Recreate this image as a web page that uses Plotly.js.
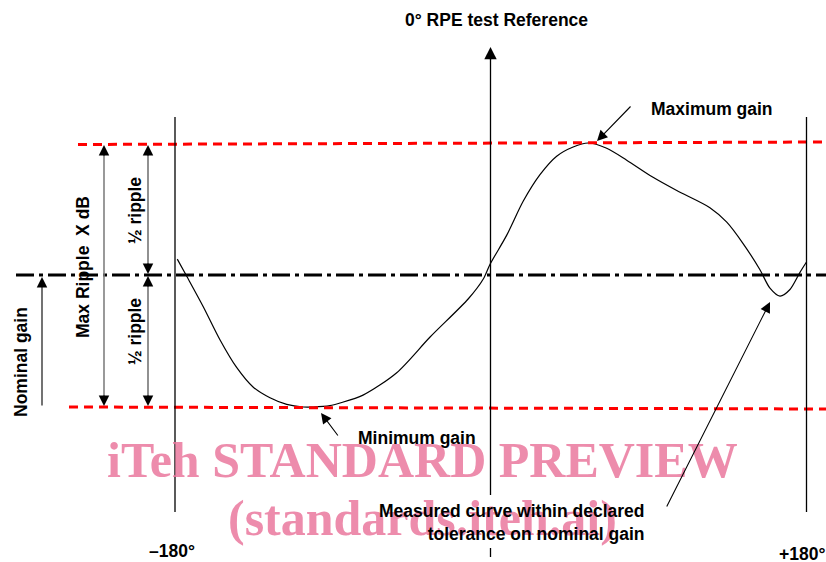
<!DOCTYPE html>
<html><head><meta charset="utf-8">
<script src="https://cdn.plot.ly/plotly-3.0.1.min.js"></script>
<style>html,body{margin:0;padding:0;background:#fff}#c{width:826px;height:562px}</style>
</head><body><div id="c"></div>
<script>
// Measured gain curve: angle (degrees) vs normalised gain (nominal = 0, max = +1, min = -1)
const angle = [-178.7,-173.3,-163.9,-154.4,-144.9,-135.4,-125.9,-116.4,-106.9,-101.2,-91.7,-86.0,-72.9,-53.7,-34.7,-12.9,-4.4,-0.6,8.9,18.4,27.9,37.4,46.8,55.4,65.9,77.3,92.3,105.8,124.7,134.3,143.5,153.2,158.9,164.6,170.3,176.0,179.8];
const gain  = [0.12,-0.01,-0.24,-0.49,-0.70,-0.85,-0.93,-0.98,-1.0,-1.0,-0.99,-0.97,-0.91,-0.74,-0.47,-0.18,-0.03,0.08,0.30,0.56,0.76,0.90,0.97,1.0,0.96,0.87,0.74,0.64,0.51,0.40,0.24,0.04,-0.10,-0.16,-0.11,0.02,0.10];
const tickLabels = ["\u2013180°", "+180°"];
const tickAngles = [-180, 180];

// layout helpers: pixel -> axis units
const K = 360/632, X0 = 491, U = 1/132, Y0 = 275;
const X = px => (px - X0) * K;
const Y = py => (Y0 - py) * U;

const FONT = "Liberation Sans, Arial, sans-serif";
const txt = (t, px, py, extra) => Object.assign({
  text: "<b>" + t + "</b>", x: X(px), y: Y(py), xref: "x", yref: "y",
  showarrow: false, xanchor: "center", yanchor: "middle",
  font: {family: FONT, size: 17.5, color: "#000"}
}, extra || {});
const arr = (px, py, ax, ay, w) => ({
  text: "", x: X(px), y: Y(py), xref: "x", yref: "y", showarrow: true,
  ax: ax, ay: ay, arrowhead: 2, arrowsize: 1.9, arrowwidth: w || 1.1, arrowcolor: "#000", standoff: 0
});
const vline = (px, y1, y2, color, w) => ({type: "line", xref: "x", yref: "y", x0: X(px), x1: X(px), y0: Y(y1), y1: Y(y2), line: {color: color || "#000", width: w || 1.3}});

const shapes = [
  // red tolerance limits
  {type:"line", xref:"x", yref:"y", x0:X(78), x1:X(826), y0:Y(144.5), y1:Y(142), line:{color:"#ff0000", width:3, dash:"9px,6px"}},
  {type:"line", xref:"x", yref:"y", x0:X(69), x1:X(826), y0:Y(407), y1:Y(409), line:{color:"#ff0000", width:3, dash:"9px,6px"}},
  // nominal gain dash-dot
  {type:"line", xref:"x", yref:"y", x0:X(16), x1:X(826), y0:0, y1:0, line:{color:"#000", width:3, dash:"18px,5px,4px,5px"}},
  // vertical reference lines
  vline(175, 117, 512), vline(806.5, 117, 512),
  vline(490.5, 55, 495), vline(490.5, 548, 557),
  // ripple shafts (grey)
  vline(104, 152, 399, "#808080", 1.6),
  vline(148, 152, 268, "#555", 1.3), vline(148, 282, 399, "#555", 1.3)
];

const annotations = [
  // watermark
  {text:"<b>iTeh STANDARD PREVIEW</b>", x:X(422), y:Y(460), xref:"x", yref:"y", showarrow:false, xanchor:"center", yanchor:"middle", font:{family:"Liberation Serif, Times New Roman, serif", size:50, color:"rgba(234,120,158,0.85)"}},
  {text:"<b>(standards.iteh.ai)</b>", x:X(422), y:Y(518), xref:"x", yref:"y", showarrow:false, xanchor:"center", yanchor:"middle", font:{family:"Liberation Serif, Times New Roman, serif", size:50, color:"rgba(234,120,158,0.85)"}},
  txt("0° RPE test Reference", 496, 20),
  txt("Maximum gain", 712, 109),
  txt("Minimum gain", 417, 438),
  txt("Measured curve within declared<br>tolerance on nominal gain", 647, 522, {xanchor:"right", align:"right"}),
  txt(tickLabels[0], X0 + tickAngles[0]/K - 3, 551),
  txt(tickLabels[1], X0 + tickAngles[1]/K - 5, 554),
  txt("Max Ripple&nbsp; X dB", 83, 267, {textangle:-90}),
  txt("½ ripple", 135, 211, {textangle:-90}),
  txt("½ ripple", 135, 332, {textangle:-90}),
  txt("Nominal gain", 21, 362, {textangle:-90}),
  // arrows
  arr(490.5, 47, 0, 14, 1.3),
  arr(597, 141, 35, -36),
  arr(321, 413, 18, 24),
  arr(770, 302, -104, 206),
  arr(42, 277, 0, 130),
  arr(104, 145, 0, 12), arr(104, 406, 0, -12),
  arr(148, 145, 0, 12), arr(148, 274, 0, -12),
  arr(148, 276, 0, 12), arr(148, 406, 0, -12)
];

const data = [{
  x: angle, y: gain, type: "scatter", mode: "lines",
  line: {color: "#000", width: 1.2, shape: "spline", smoothing: 0.8},
  hoverinfo: "skip"
}];

const layout = {
  width: 826, height: 562,
  margin: {l:0, r:0, t:0, b:0},
  paper_bgcolor: "#fff", plot_bgcolor: "#fff",
  showlegend: false,
  xaxis: {range: [X(0), X(826)], visible: false, fixedrange: true},
  yaxis: {range: [Y(562), Y(0)], visible: false, fixedrange: true},
  shapes: shapes, annotations: annotations
};
Plotly.newPlot("c", data, layout, {displayModeBar: false, staticPlot: true});
</script></body></html>
